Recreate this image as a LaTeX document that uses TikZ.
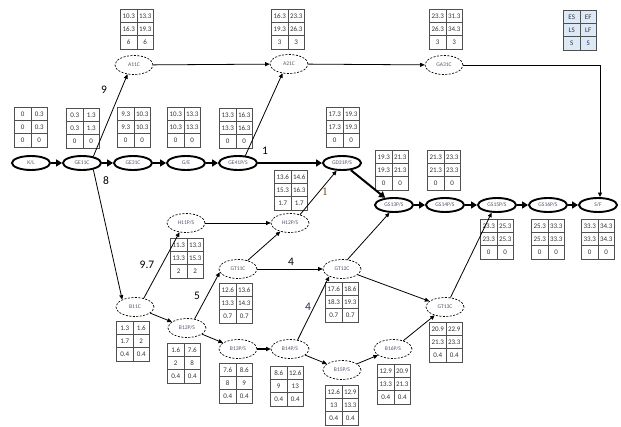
\documentclass[tikz,border=0pt]{standalone}
\usepackage{fontspec}
\setmainfont{Carlito}
\newfontfamily\numserif{Liberation Serif}
\usepackage{array}
\usepackage{colortbl}
\usetikzlibrary{positioning, arrows.meta, shapes.geometric, calc}

\definecolor{rulegray}{HTML}{505050}
\definecolor{txtgray}{HTML}{333333}
\definecolor{lblgray}{HTML}{55556A}
\definecolor{keyblue}{HTML}{DCE9F6}
\definecolor{wbrown}{HTML}{7A4A1C}
\definecolor{wnavy}{HTML}{1F2A44}

% ES/EF, LS/LF, slack cells
\newcolumntype{C}{>{\centering\arraybackslash\rule[-3.8pt]{0pt}{12.6pt}}p{12.8pt}}
\newcommand{\esef}[6]{%
	{\setlength{\tabcolsep}{1.5pt}\setlength{\arrayrulewidth}{0.7pt}\arrayrulecolor{rulegray}%
	\begin{tabular}{|C|C|}\hline #1 & #2\\\hline #3 & #4\\\hline #5 & #6\\\hline\end{tabular}}}

\begin{document}
\begin{tikzpicture}[
			x=1pt, y=-1pt,
			crit/.style={ellipse, draw, line width=1.9pt, minimum width=38pt, minimum height=14pt, inner sep=0pt, font=\fontsize{5.6}{6}\selectfont, text=lblgray},
			noncrit/.style={ellipse, draw, dash pattern=on 2pt off 1.5pt, line width=0.7pt, minimum width=38pt, minimum height=19pt, inner sep=0pt, font=\fontsize{5.6}{6}\selectfont, text=lblgray},
			esefbox/.style={inner sep=0pt, font=\fontsize{7}{8}\selectfont, text=txtgray},
			critarr/.style={-{Triangle[length=6pt, width=7pt]}, line width=2pt},
			arr/.style={-{Triangle[length=4.5pt, width=4pt]}, line width=0.8pt},
			weight/.style={font=\fontsize{11.5}{12}\selectfont}
			]
			\useasboundingbox (0,0) rectangle (621,427);
			
			% --- Critical path ---
			\node[crit] (KL) at (31,163) {K/L};
			\node[crit] (GE11C) at (82,163) {GE11C};
			\node[crit] (GE31C) at (133,163) {GE31C};
			\node[crit] (GE) at (186,163) {G/E};
			\node[crit] (GE41) at (238,163) {GE41P/S};
			\node[crit] (GD31) at (342,163) {GD31P/S};
			\node[crit] (GS13) at (394,205) {GS13P/S};
			\node[crit] (GS14) at (445,205) {GS14P/S};
			\node[crit] (GS15) at (497,205) {GS15P/S};
			\node[crit] (GS16) at (548,205) {GS16P/S};
			\node[crit] (SF) at (598,205) {S/F};
			
			% --- Other activities ---
			\node[noncrit] (A11C) at (134,65) {A11C};
			\node[noncrit] (A21C) at (289,64) {A21C};
			\node[noncrit] (GA31C) at (444,65) {GA31C};
			\node[noncrit] (B11C) at (135,307) {B11C};
			\node[noncrit] (H11) at (186,223) {H11P/S};
			\node[noncrit] (H12) at (290,223) {H12P/S};
			\node[noncrit] (GT11C) at (238,269) {GT11C};
			\node[noncrit] (B12) at (187,328) {B12P/S};
			\node[noncrit] (B13) at (238,349) {B13P/S};
			\node[noncrit] (B14) at (290,349) {B14P/S};
			\node[noncrit] (GT12C) at (342,269) {GT12C};
			\node[noncrit] (GT13C) at (445,307) {GT13C};
			\node[noncrit] (B15) at (342,370) {B15P/S};
			\node[noncrit] (B16) at (393,349) {B16P/S};
			
			% --- Time tables ---
			\node[esefbox, fill=keyblue] (key) at (580,30) {\esef{ES}{EF}{LS}{LF}{S}{S}};
			\node[esefbox] (tKL) at (31,127) {\esef{0}{0.3}{0}{0.3}{0}{0}};
			\node[esefbox] (tGE11C) at (83,128) {\esef{0.3}{1.3}{0.3}{1.3}{0}{0}};
			\node[esefbox] (tGE31C) at (134,127) {\esef{9.3}{10.3}{9.3}{10.3}{0}{0}};
			\node[esefbox] (tGE) at (184,127) {\esef{10.3}{13.3}{10.3}{13.3}{0}{0}};
			\node[esefbox] (tGE41) at (236,128) {\esef{13.3}{16.3}{13.3}{16.3}{0}{0}};
			\node[esefbox] (tGD31) at (343,127) {\esef{17.3}{19.3}{17.3}{19.3}{0}{0}};
			\node[esefbox] (tGS13) at (392,170) {\esef{19.3}{21.3}{19.3}{21.3}{0}{0}};
			\node[esefbox] (tGS14) at (444,170) {\esef{21.3}{23.3}{21.3}{23.3}{0}{0}};
			\node[esefbox] (tGS15) at (497,239) {\esef{23.3}{25.3}{23.3}{25.3}{0}{0}};
			\node[esefbox] (tGS16) at (548,239) {\esef{25.3}{33.3}{25.3}{33.3}{0}{0}};
			\node[esefbox] (tSF) at (598,239) {\esef{33.3}{34.3}{33.3}{34.3}{0}{0}};
			\node[esefbox] (tA11C) at (137,29) {\esef{10.3}{13.3}{16.3}{19.3}{6}{6}};
			\node[esefbox] (tA21C) at (288,29) {\esef{16.3}{23.3}{19.3}{26.3}{3}{3}};
			\node[esefbox] (tGA31C) at (446,29) {\esef{23.3}{31.3}{26.3}{34.3}{3}{3}};
			\node[esefbox] (tH12) at (291,190) {\esef{13.6}{14.6}{15.3}{16.3}{1.7}{1.7}};
			\node[esefbox] (tH11) at (187,258) {\esef{11.3}{13.3}{13.3}{15.3}{2}{2}};
			\node[esefbox] (tGT11C) at (236,303) {\esef{12.6}{13.6}{13.3}{14.3}{0.7}{0.7}};
			\node[esefbox] (tB11C) at (133,341) {\esef{1.3}{1.6}{1.7}{2}{0.4}{0.4}};
			\node[esefbox] (tB12) at (184,363) {\esef{1.6}{7.6}{2}{8}{0.4}{0.4}};
			\node[esefbox] (tB13) at (236,383) {\esef{7.6}{8.6}{8}{9}{0.4}{0.4}};
			\node[esefbox] (tB14) at (287,386) {\esef{8.6}{12.6}{9}{13}{0.4}{0.4}};
			\node[esefbox] (tGT12C) at (342,302) {\esef{17.6}{18.6}{18.3}{19.3}{0.7}{0.7}};
			\node[esefbox] (tB15) at (342,405) {\esef{12.6}{12.9}{13}{13.3}{0.4}{0.4}};
			\node[esefbox] (tB16) at (394,384) {\esef{12.9}{20.9}{13.3}{21.3}{0.4}{0.4}};
			\node[esefbox] (tGT13C) at (446,342) {\esef{20.9}{22.9}{21.3}{23.3}{0.4}{0.4}};
			
			% --- Critical links ---
			\draw[critarr] (KL) -- (GE11C);
			\draw[critarr] (GE11C) -- (GE31C);
			\draw[critarr] (GE31C) -- (GE);
			\draw[critarr] (GE) -- (GE41);
			\draw[critarr] (GE41) -- (GD31);
			\draw[critarr] (GD31) -- (GS13);
			\draw[critarr] (GS13) -- (GS14);
			\draw[critarr] (GS14) -- (GS15);
			\draw[critarr] (GS15) -- (GS16);
			\draw[critarr] (GS16) -- (SF);
			
			% --- Other links ---
			\draw[arr] (GE11C.30) -- (A11C.235);
			\draw[arr] (GE11C.-30) -- (B11C.150);
			\draw[arr] (A11C) -- (A21C);
			\draw[arr] (A21C) -- (GA31C);
			\draw[arr] (GA31C.east) -| ($(SF.north)+(2,0)$);
			\draw[arr] (GE41.45) -- (A21C.235);
			\draw[arr] (H12.40) -- (GD31.235);
			\draw[arr] (B11C.45) -- (H11.235);
			\draw[arr] (B11C) -- (B12);
			\draw[arr] (H11) -- (H12);
			\draw[arr] (B12.50) -- (GT11C.190);
			\draw[arr] (B12) -- (B13);
			\draw[arr] (GT11C) -- (H12);
			\draw[arr] (GT11C) -- (GT12C);
			\draw[arr, line width=1.2pt] (B13) -- (B14);
			\draw[arr] (B14.50) -- (GT12C.210);
			\draw[arr] (B14) -- (B15);
			\draw[arr] (B15) -- (B16);
			\draw[arr] (B16) -- (GT13C);
			\draw[arr] (GT12C.60) -- (GS13.240);
			\draw[arr] (GT12C) -- (GT13C);
			\draw[arr] (GT13C.60) -- (GS15.235);
			
			% --- Durations ---
			\node[weight] (w9) at (104,90) {9};
			\node[weight] (w8) at (106,181) {8};
			\node[weight] (w1) at (265,151) {1};
			\node[weight, text=wbrown, font=\numserif\fontsize{11.5}{12}\selectfont] (w1b) at (325,192) {1};
			\node[weight] (w97) at (147,265) {9.7};
			\node[weight] (w5) at (197,296) {5};
			\node[weight] (w4a) at (291,262) {4};
			\node[weight, text=wnavy] (w4b) at (308,307) {4};
			
\end{tikzpicture}
\end{document}
